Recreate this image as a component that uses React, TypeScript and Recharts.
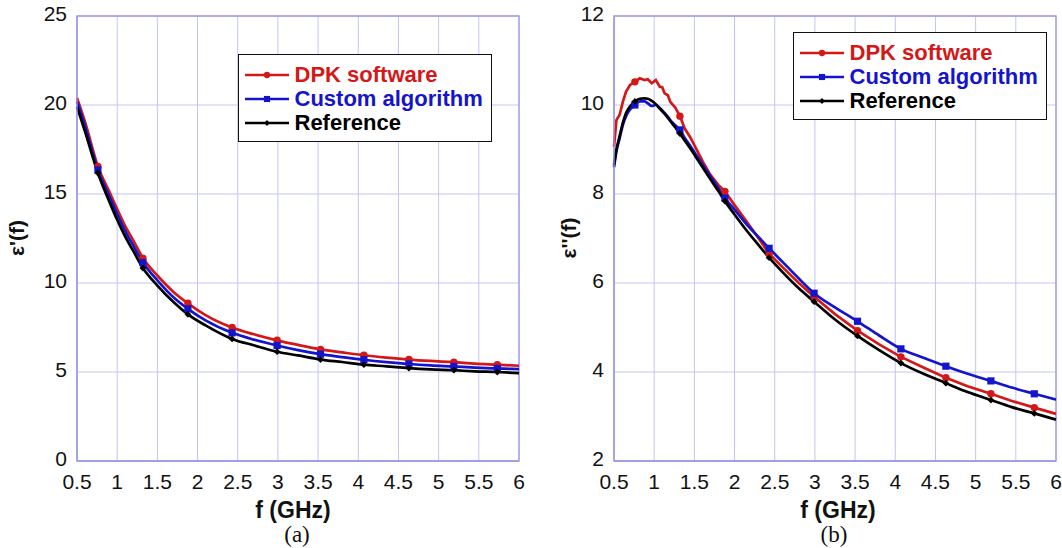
import React from 'react';
import { LineChart, Line, XAxis, YAxis, CartesianGrid, Legend, ReferenceArea } from 'recharts';

// ---------- data ----------
const freqA = [0.5, 0.6, 0.76, 0.9, 1.0, 1.1, 1.2, 1.32, 1.5, 1.7, 1.88, 2.1, 2.43, 2.7, 2.99, 3.25, 3.53, 3.8, 4.07, 4.35, 4.63, 4.9, 5.19, 5.45, 5.73, 6.0];
const dpkA = [20.4, 19.05, 16.55, 15.15, 14.15, 13.2, 12.4, 11.4, 10.42, 9.5, 8.86, 8.2, 7.5, 7.12, 6.78, 6.52, 6.27, 6.1, 5.94, 5.81, 5.7, 5.62, 5.55, 5.47, 5.41, 5.35];
const customA = [20.2, 18.8, 16.35, 14.9, 13.88, 12.92, 12.1, 11.15, 10.15, 9.2, 8.55, 7.9, 7.2, 6.82, 6.49, 6.23, 6.0, 5.84, 5.69, 5.56, 5.45, 5.37, 5.31, 5.25, 5.2, 5.16];
const refA = [19.9, 18.5, 16.18, 14.6, 13.55, 12.6, 11.8, 10.84, 9.85, 8.93, 8.24, 7.62, 6.86, 6.5, 6.14, 5.93, 5.7, 5.56, 5.41, 5.32, 5.22, 5.15, 5.1, 5.04, 5.0, 4.94];

const freqB = [0.5, 0.53, 0.57, 0.61, 0.65, 0.7, 0.76, 0.82, 0.88, 0.92, 0.97, 1.02, 1.07, 1.1, 1.13, 1.17, 1.2, 1.26, 1.32, 1.38, 1.45, 1.53, 1.61, 1.7, 1.8, 1.88, 2.0, 2.15, 2.3, 2.43, 2.6, 2.8, 2.99, 3.25, 3.53, 3.8, 4.07, 4.35, 4.63, 4.9, 5.19, 5.45, 5.73, 6.0];
const dpkB = [9.06, 9.66, 9.78, 10.07, 10.3, 10.45, 10.52, 10.6, 10.56, 10.58, 10.49, 10.56, 10.41, 10.4, 10.26, 10.22, 10.07, 9.95, 9.75, 9.47, 9.27, 8.99, 8.71, 8.43, 8.2, 8.06, 7.75, 7.38, 7.0, 6.66, 6.35, 6.0, 5.69, 5.3, 4.93, 4.62, 4.34, 4.1, 3.87, 3.68, 3.51, 3.35, 3.2, 3.06];
const customB = [8.6, 8.95, 9.25, 9.55, 9.75, 9.9, 10.0, 10.08, 10.08, 10.04, 9.98, 10.0, 9.93, 9.88, 9.82, 9.74, 9.66, 9.55, 9.44, 9.26, 9.08, 8.86, 8.64, 8.4, 8.13, 7.91, 7.65, 7.32, 7.03, 6.78, 6.47, 6.1, 5.77, 5.45, 5.14, 4.82, 4.52, 4.32, 4.13, 3.96, 3.8, 3.65, 3.51, 3.38];
const refB = [8.65, 9.0, 9.3, 9.6, 9.82, 9.97, 10.08, 10.14, 10.15, 10.14, 10.09, 10.02, 9.92, 9.86, 9.8, 9.71, 9.64, 9.5, 9.36, 9.2, 9.02, 8.8, 8.58, 8.33, 8.06, 7.84, 7.54, 7.18, 6.85, 6.57, 6.24, 5.88, 5.58, 5.18, 4.81, 4.49, 4.2, 3.96, 3.75, 3.55, 3.37, 3.21, 3.07, 2.93];

const markerFreqs = [0.76, 1.32, 1.88, 2.43, 2.99, 3.53, 4.07, 4.63, 5.19, 5.73];

const xTicks = [0.5, 1, 1.5, 2, 2.5, 3, 3.5, 4, 4.5, 5, 5.5, 6];
const yTicksA = [0, 5, 10, 15, 20, 25];
const yTicksB = [2, 4, 6, 8, 10, 12];

const seriesNames = ['DPK software', 'Custom algorithm', 'Reference'];
const seriesKeys = ['dpk', 'custom', 'ref'];

const xLabel = 'f (GHz)';
const yLabelA = "ε'(f)";
const yLabelB = "ε''(f)";
const captionA = '(a)';
const captionB = '(b)';

// ---------- styles ----------
const COLORS: Record<string, string> = { dpk: '#d41818', custom: '#1414cc', ref: '#000000' };
const MARKERS: Record<string, string> = { dpk: 'circle', custom: 'square', ref: 'diamond' };
const GRID = '#c4c4f2';
const FRAME = '#9c9ce4';
const FONT = '"Liberation Sans", Arial, Helvetica, sans-serif';

const dataA = freqA.map((f, i) => ({ f, dpk: dpkA[i], custom: customA[i], ref: refA[i] }));
const dataB = freqB.map((f, i) => ({ f, dpk: dpkB[i], custom: customB[i], ref: refB[i] }));

function drawMarker(kind: string, cx: number, cy: number, color: string, key?: any, s = 1) {
  if (kind === 'circle') return <circle key={key} cx={cx} cy={cy} r={3.7 * s} fill={color} stroke="none" />;
  if (kind === 'square') return <rect key={key} x={cx - 3.6 * s} y={cy - 3.6 * s} width={7.2 * s} height={7.2 * s} fill={color} />;
  const d = 3.4 * s;
  return <polygon key={key} points={`${cx},${cy - d} ${cx + d},${cy} ${cx},${cy + d} ${cx - d},${cy}`} fill={color} />;
}

const makeDot = (seriesKey: string) => (props: any) => {
  const { cx, cy, payload, index } = props;
  const k = `${seriesKey}-${index}`;
  if (!payload || !markerFreqs.includes(payload.f) || cx == null || cy == null) return <g key={k} />;
  return drawMarker(MARKERS[seriesKey], cx, cy, COLORS[seriesKey], k);
};

const renderLegend = (props: any) => {
  const payload = [...(props.payload || [])].sort(
    (a: any, b: any) => seriesKeys.indexOf(a.dataKey) - seriesKeys.indexOf(b.dataKey)
  );
  return (
    <div
      style={{
        position: 'relative',
        width: 254,
        height: 88,
        boxSizing: 'border-box',
        border: '1.6px solid #111',
        background: '#fff',
        fontFamily: FONT,
      }}
    >
      {payload.map((entry: any, i: number) => {
        const key = entry.dataKey as string;
        return (
          <div key={key} style={{ position: 'absolute', left: 0, top: 7.5 + i * 24.2, height: 24, width: 250 }}>
            <svg width={46} height={24} style={{ position: 'absolute', left: 5.5, top: 0 }}>
              <line x1={0} y1={12} x2={44} y2={12} stroke={COLORS[key]} strokeWidth={2.4} />
              {drawMarker(MARKERS[key], 22, 12, COLORS[key], undefined, 0.85)}
            </svg>
            <span
              style={{
                position: 'absolute',
                left: 55.5,
                top: 0,
                lineHeight: '24px',
                fontSize: 22,
                fontWeight: 'bold',
                color: COLORS[key],
                whiteSpace: 'nowrap',
              }}
            >
              {entry.value}
            </span>
          </div>
        );
      })}
    </div>
  );
};

function Panel(props: {
  data: any[];
  yDomain: number[];
  yTicks: number[];
  yAxisWidth: number;
  marginRight: number;
  legendPos: { left: number; top: number };
  jaggedDpk: boolean;
}) {
  const { data, yDomain, yTicks, yAxisWidth, marginRight, legendPos, jaggedDpk } = props;
  return (
    <LineChart width={531} height={548} data={data} margin={{ top: 16, right: marginRight, bottom: 57, left: 0 }}>
      <CartesianGrid stroke={GRID} strokeWidth={1} horizontalValues={yTicks} verticalValues={xTicks} />
      <ReferenceArea x1={0.5} x2={6} y1={yDomain[0]} y2={yDomain[1]} fill="none" stroke={FRAME} strokeWidth={1.3} ifOverflow="visible" />
      <XAxis
        dataKey="f"
        type="number"
        domain={[0.5, 6]}
        ticks={xTicks}
        interval={0}
        height={30}
        tickLine={false}
        tickSize={0}
        tickMargin={13}
        axisLine={{ stroke: FRAME, strokeWidth: 1.3 }}
        tick={{ fill: '#111', fontSize: 21, fontFamily: FONT }}
      />
      <YAxis
        type="number"
        domain={yDomain}
        ticks={yTicks}
        interval={0}
        width={yAxisWidth}
        tickLine={false}
        tickSize={0}
        tickMargin={10}
        axisLine={{ stroke: FRAME, strokeWidth: 1.3 }}
        tick={{ fill: '#111', fontSize: 21, fontFamily: FONT, dy: -2 }}
      />
      {seriesKeys.map((k, i) => (
        <Line
          key={k}
          dataKey={k}
          name={seriesNames[i]}
          type={k === 'dpk' && jaggedDpk ? 'linear' : 'monotone'}
          stroke={COLORS[k]}
          strokeWidth={2.7}
          dot={makeDot(k)}
          activeDot={false}
          isAnimationActive={false}
        />
      ))}
      <Legend
        layout="vertical"
        align="center"
        verticalAlign="middle"
        wrapperStyle={{ left: legendPos.left, top: legendPos.top, width: 254, height: 88 }}
        content={renderLegend}
      />
    </LineChart>
  );
}

const titleStyle: React.CSSProperties = {
  position: 'absolute',
  fontFamily: FONT,
  fontWeight: 'bold',
  fontSize: 23,
  color: '#111',
  whiteSpace: 'nowrap',
  transform: 'translate(-50%, -50%)',
};
const ytitleStyle: React.CSSProperties = {
  ...titleStyle,
  fontSize: 21,
  transform: 'translate(-50%, -50%) rotate(-90deg)',
};
const captionStyle: React.CSSProperties = {
  position: 'absolute',
  fontFamily: '"Liberation Serif", "Times New Roman", serif',
  fontSize: 23,
  color: '#111',
  whiteSpace: 'nowrap',
  transform: 'translate(-50%, -50%)',
};

export default function App() {
  return (
    <div style={{ position: 'absolute', left: 0, top: 0, width: 1062, height: 548, background: '#fff', overflow: 'hidden' }}>
      <div style={{ position: 'absolute', left: 0, top: 0 }}>
        <Panel data={dataA} yDomain={[0, 25]} yTicks={yTicksA} yAxisWidth={77} marginRight={12} legendPos={{ left: 238, top: 54 }} jaggedDpk={false} />
      </div>
      <div style={{ position: 'absolute', left: 531, top: 0 }}>
        <Panel data={dataB} yDomain={[2, 12]} yTicks={yTicksB} yAxisWidth={83} marginRight={6} legendPos={{ left: 262, top: 32 }} jaggedDpk={true} />
      </div>
      <div style={{ ...titleStyle, left: 293, top: 510 }}>{xLabel}</div>
      <div style={{ ...titleStyle, left: 838, top: 510 }}>{xLabel}</div>
      <div style={{ ...ytitleStyle, left: 17, top: 238 }}>{yLabelA}</div>
      <div style={{ ...ytitleStyle, left: 569, top: 238 }}>{yLabelB}</div>
      <div style={{ ...captionStyle, left: 297, top: 535 }}>{captionA}</div>
      <div style={{ ...captionStyle, left: 834, top: 535 }}>{captionB}</div>
    </div>
  );
}
